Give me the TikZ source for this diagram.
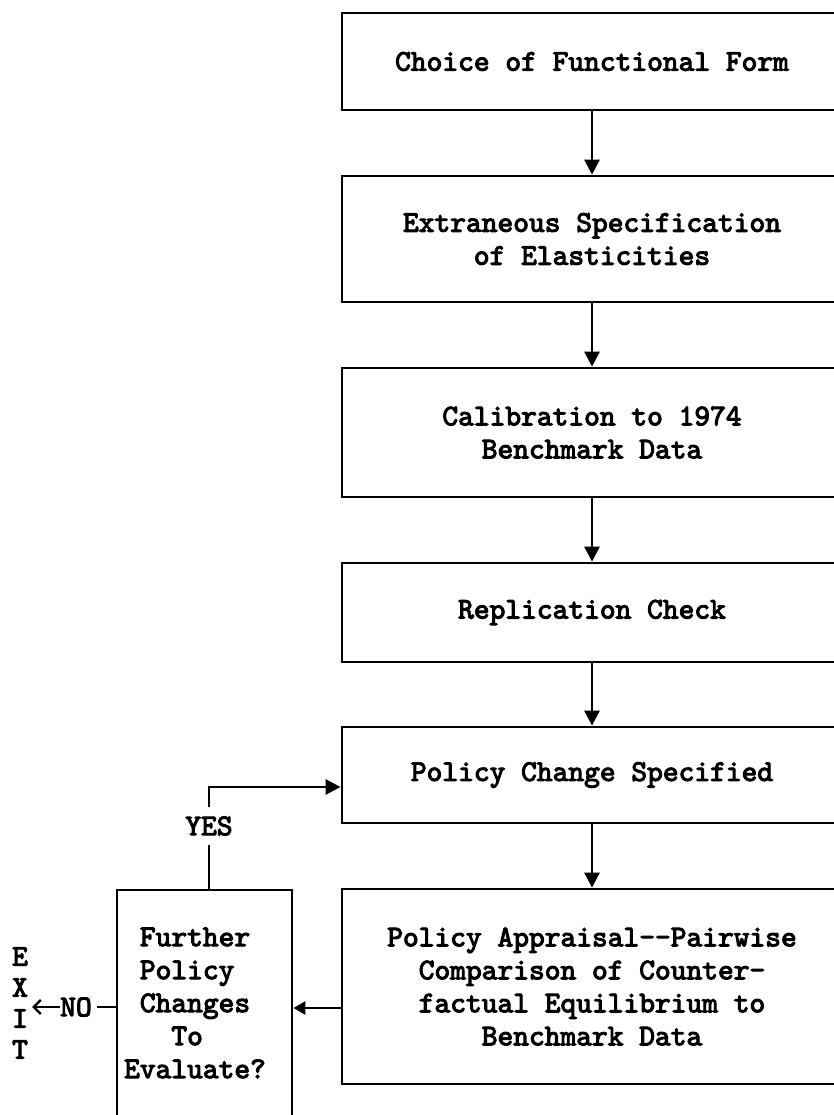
\documentclass[tikz,border=0pt]{standalone}
\usepackage{fontspec}
\newfontfamily\tw{lmmono10-regular.otf}[FakeBold=3.5]
\usetikzlibrary{arrows.meta}
\begin{document}
\begin{tikzpicture}[x=1pt,y=-1pt,
  txt/.style={font=\tw\fontsize{30}{33}\selectfont},
  box/.style={txt,draw,line width=2.8pt,minimum width=500pt,align=center,inner sep=0pt},
  conn/.style={line width=2.8pt},
  arr/.style={conn,-{Triangle[length=15pt,width=15pt]}},
  lab/.style={txt,inner sep=0pt}]
\useasboundingbox (0,0) rectangle (834,1115);
\clip (0,0) rectangle (834,1115);
\fill[white] (0,0) rectangle (834,1115);
% main column
\node[box,minimum height=97pt]  (b1) at (592,61.5)  {Choice of Functional Form};
\node[box,minimum height=126pt] (b2) at (592,239)   {Extraneous Specification\\of Elasticities};
\node[box,minimum height=129pt] (b3) at (592,432.5) {Calibration to 1974\\Benchmark Data};
\node[box,minimum height=99pt]  (b4) at (592,612.5) {Replication Check};
\node[box,minimum height=96pt]  (b5) at (592,775)   {Policy Change Specified};
\node[box,minimum height=195pt] (b6) at (592,986.5) {Policy Appraisal-{}-Pairwise\\Comparison of Counter-\\factual Equilibrium to\\Benchmark Data};
% decision box (open at the bottom of the page)
\node[draw,line width=2.8pt,minimum width=175pt,minimum height=250pt,inner sep=0pt] (fq) at (204.5,1015) {};
\node[lab,align=left] (fqt) at (195,1003) {\phantom{X}Further\\\phantom{X}Policy\\\phantom{X}Changes\\\phantom{XXX}To\\Evaluate?};
% labels
\node[lab] (yes) at (209,826) {YES};
\node[lab] (no) at (76,1007) {NO};
\node[lab,align=center,font=\tw\fontsize{30}{31}\selectfont] (exit) at (20,1003) {E\\X\\I\\T};
\coordinate (turn) at (209,787);
% connectors
\draw[arr] (b1) -- (b2);
\draw[arr] (b2) -- (b3);
\draw[arr] (b3) -- (b4);
\draw[arr] (b4) -- (b5);
\draw[arr] (b5) -- (b6);
\draw[conn,shorten >=9pt] (fq.north -| turn) -- (yes.south);
\draw[arr,shorten <=9pt] (yes.north) -- (turn) -- (b5.west |- turn);
\draw[conn,-{Triangle[length=12pt,width=13pt]}] (b6.west |- 0,1008) -- (fq.east |- 0,1008);
\draw[conn,shorten >=5pt] (fq.west |- no) -- (no.east);
\draw[line width=2.4pt,-{Straight Barb[length=7pt,width=14pt]},shorten >=4pt] (no.west) -- (exit.east |- no);
\end{tikzpicture}
\end{document}
